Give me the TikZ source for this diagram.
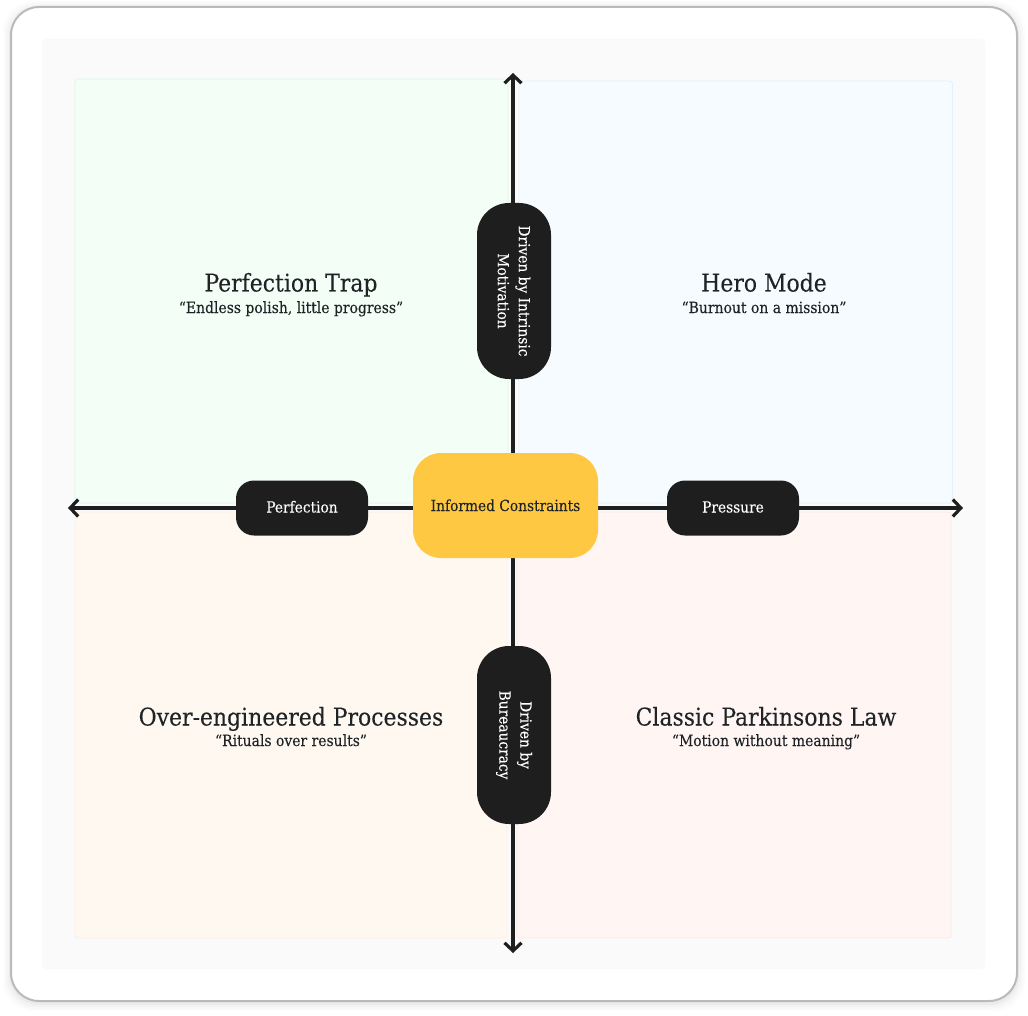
\documentclass[tikz,border=0pt]{standalone}
\usepackage{fontspec}
\setmainfont[FakeBold=0.12]{DejaVu Serif Condensed}
\usetikzlibrary{arrows.meta}
\definecolor{inkc}{HTML}{1E1E1E}
\definecolor{txtc}{HTML}{1F2326}
\definecolor{amber}{HTML}{FFC842}
\definecolor{tlf}{HTML}{F3FEF6}\definecolor{tld}{HTML}{DDF8E6}
\definecolor{trf}{HTML}{F6FBFF}\definecolor{trd}{HTML}{E2F1FC}
\definecolor{blf}{HTML}{FFF8F1}\definecolor{bld}{HTML}{FEEFE2}
\definecolor{brf}{HTML}{FFF6F4}\definecolor{brd}{HTML}{FEE7E5}
\tikzset{
  x=1pt,y=-1pt,
  quad/.style={draw=#1,line width=0.9pt,rounded corners=3pt},
  pill/.style={fill=inkc,text=white,align=center,inner sep=0pt,font=\fontsize{15.3}{21}\selectfont},
  hpill/.style={pill,rounded corners=18pt,minimum width=132pt,minimum height=55pt,text height=12pt,text depth=3pt},
  vpill/.style={pill,rounded corners=32pt,minimum height=74pt,rotate=-90},
  axis/.style={draw=inkc,line width=3.2pt,-{Straight Barb[length=8pt,width=17pt,line width=3.2pt]},line cap=round},
  title/.style={text=txtc,font=\fontsize{24.4}{28}\selectfont,inner sep=0pt,anchor=base},
  sub/.style={text=txtc,font=\fontsize{15.5}{18}\selectfont,inner sep=0pt,anchor=base},
}
\begin{document}
\begin{tikzpicture}
\useasboundingbox (0,0) rectangle (1028,1016);
\fill[white] (0,0) rectangle (1028,1016);
% soft shadow
\foreach \d/\o in {8/0.012,6/0.016,4/0.02,2/0.03}{
  \fill[black,opacity=\o,rounded corners=30pt] (11-\d,9-\d) rectangle (1017+\d,1003+\d);
}
\draw[draw=black!27,fill=white,line width=2pt,rounded corners=28pt] (11,7) rectangle (1017,1001);
\fill[fill=black!2,rounded corners=4pt] (42,39) rectangle (985,969);
% quadrants
\path[quad=tld,fill=tlf] (75,79) rectangle (508,503);
\path[quad=trd,fill=trf] (519,81) rectangle (952.5,503);
\path[quad=bld,fill=blf] (75,512) rectangle (507,938);
\path[quad=brd,fill=brf] (517,512) rectangle (951,938);
% axis ends
\coordinate (axl) at (68,508);
\coordinate (axr) at (963,508);
\coordinate (axt) at (513,73);
\coordinate (axb) at (513,953);
\coordinate (axc) at (513,508);
\draw[axis] (axc) -- (axr);
\draw[axis] (axc) -- (axl);
\draw[axis] (axc) -- (axt);
\draw[axis] (axc) -- (axb);
% pills
\node[hpill] (perf) at (302,508) {Perfection};
\node[hpill] (pres) at (733,508) {Pressure};
\node[vpill,minimum width=176pt] (intr) at (514,291) {Driven by Intrinsic\\Motivation};
\node[vpill,minimum width=178pt] (bur) at (514,735) {Driven by\\Bureaucracy};
\node[fill=amber,rounded corners=28pt,minimum width=185pt,minimum height=105pt,inner sep=0pt,text=txtc,text height=13pt,text depth=2pt,font=\fontsize{15.3}{18}\selectfont] (cen) at (505.5,505.5) {Informed Constraints};
% labels
\node[title] (t1) at (291,291.5) {Perfection Trap};
\node[sub] (s1) at (291,313) {“Endless polish, little progress”};
\node[title] (t2) at (764,291.5) {Hero Mode};
\node[sub] (s2) at (764,313) {“Burnout on a mission”};
\node[title] (t3) at (291,725.5) {Over-engineered Processes};
\node[sub] (s3) at (291,746) {“Rituals over results”};
\node[title] (t4) at (766,725.5) {Classic Parkinsons Law};
\node[sub] (s4) at (766,746) {“Motion without meaning”};
\end{tikzpicture}
\end{document}
